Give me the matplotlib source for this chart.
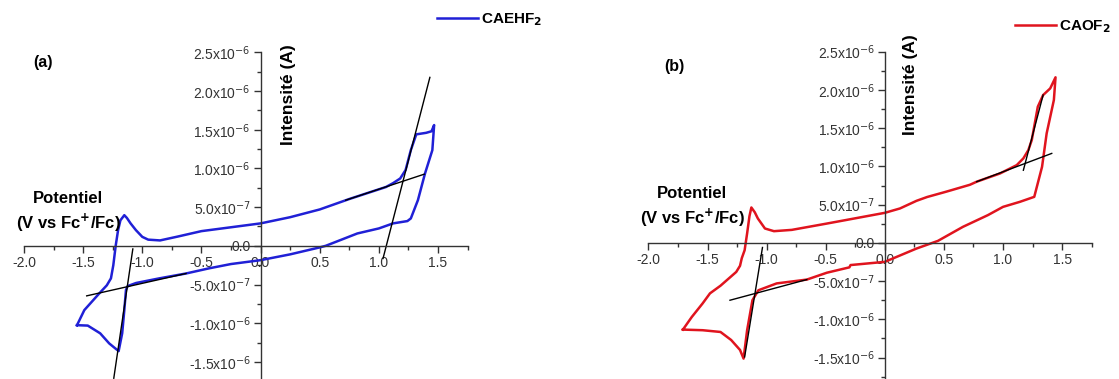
import matplotlib
matplotlib.use('Agg')

import matplotlib.pyplot as plt
from matplotlib.ticker import MultipleLocator, FuncFormatter, FixedLocator

plt.rcParams['font.family'] = ['Liberation Sans', 'DejaVu Sans']

# courant en unites de 1e-6 A
# (a) CAEHF2
xa = [-1.552, -1.49, -1.364, -1.30, -1.265, -1.245, -1.225, -1.205, -1.185, -1.152, -1.13,
      -1.099, -1.054, -1.0, -0.95, -0.85, -0.7, -0.5, -0.25, 0.0, 0.25, 0.5, 0.75,
      1.0, 1.06, 1.12, 1.18, 1.226, 1.27, 1.316, 1.40, 1.445, 1.467, 1.452, 1.39,
      1.33, 1.27, 1.241, 1.12, 1.0, 0.818, 0.55, 0.5, 0.25, 0.0, -0.25, -0.434, -0.63,
      -0.856, -1.053, -1.124, -1.138, -1.152, -1.17, -1.20, -1.28, -1.356, -1.461, -1.552]
ya = [-1.025, -0.83, -0.615, -0.51, -0.42, -0.25, 0.0, 0.2, 0.33, 0.396, 0.36,
      0.29, 0.203, 0.116, 0.08, 0.07, 0.12, 0.19, 0.24, 0.29, 0.37, 0.47, 0.605,
      0.73, 0.76, 0.81, 0.87, 0.98, 1.236, 1.44, 1.46, 1.48, 1.56, 1.236, 0.935,
      0.59, 0.354, 0.32, 0.29, 0.225, 0.16, 0.0, -0.02, -0.11, -0.185, -0.235, -0.29, -0.357,
      -0.42, -0.48, -0.52, -0.57, -0.83, -1.13, -1.36, -1.26, -1.13, -1.03, -1.025]

# tangentes (a)
ta_x = [[-1.47, -0.63], [-1.241, -1.08], [0.72, 1.384], [1.035, 1.431]]
ta_y = [[-0.646, -0.357], [-1.71, -0.04], [0.59, 0.926], [-0.163, 2.176]]

# (b) CAOF2
xb = [-1.708, -1.633, -1.542, -1.479, -1.39, -1.257, -1.225, -1.21, -1.186, -1.165, -1.145,
      -1.129, -1.10, -1.074, -1.014, -0.938, -0.787, -0.5, -0.335, 0.0, 0.128, 0.268,
      0.358, 0.509, 0.565, 0.72, 0.777, 0.975, 1.116, 1.172, 1.214, 1.243, 1.294, 1.339,
      1.399, 1.444, 1.43, 1.369, 1.33, 1.264, 1.143, 1.0, 0.872, 0.661, 0.449, 0.268,
      0.0, -0.29, -0.30, -0.49, -0.66, -0.915, -1.07, -1.12, -1.165, -1.195, -1.225,
      -1.30, -1.39, -1.542, -1.708]
yb = [-1.134, -0.969, -0.793, -0.66, -0.56, -0.38, -0.30, -0.2, -0.096, 0.123, 0.35,
      0.463, 0.40, 0.319, 0.188, 0.153, 0.17, 0.25, 0.297, 0.393, 0.45, 0.55,
      0.60, 0.665, 0.69, 0.76, 0.80, 0.908, 1.017, 1.105, 1.213, 1.344, 1.78, 1.933,
      2.02, 2.165, 1.868, 1.432, 0.995, 0.602, 0.537, 0.471, 0.363, 0.21, 0.026, -0.074,
      -0.248, -0.29, -0.32, -0.39, -0.48, -0.53, -0.62, -0.75, -1.143, -1.513, -1.40,
      -1.27, -1.165, -1.142, -1.134]

tb_x = [[-1.31, -0.66], [-1.186, -1.035], [0.777, 1.412], [1.172, 1.339]]
tb_y = [[-0.75, -0.48], [-1.492, -0.06], [0.80, 1.17], [0.95, 1.933]]

yticks = [-1.5, -1.0, -0.5, 0.0, 0.5, 1.0, 1.5, 2.0, 2.5]


def ylab(v, pos):
    if abs(v) < 1e-9:
        return '0.0'
    if abs(v) < 0.99:
        return r'%.1fx10$^{-7}$' % (v * 10)
    return r'%.1fx10$^{-6}$' % v


def panel(rect, x, y, tx, ty, color, name, tag, ybot, lbl_pos, leg_pos, tag_pos, int_pos):
    ax = fig.add_axes(rect)
    ax.plot(x, y, color=color, lw=1.8, label=name)
    for a, b in zip(tx, ty):
        ax.plot(a, b, color='black', lw=1.0)
    for s in ['top', 'right']:
        ax.spines[s].set_visible(False)
    ax.spines['left'].set_position(('data', 0))
    ax.spines['bottom'].set_position(('data', 0))
    for s in ['left', 'bottom']:
        ax.spines[s].set_color('#333333')
        ax.spines[s].set_linewidth(1.0)
    ax.patch.set_alpha(0)
    ax.xaxis.set_major_locator(MultipleLocator(0.5))
    ax.xaxis.set_minor_locator(MultipleLocator(0.25))
    ax.yaxis.set_major_locator(FixedLocator(yticks))
    ax.yaxis.set_minor_locator(MultipleLocator(0.25))
    ax.xaxis.set_major_formatter(FuncFormatter(lambda v, p: '%.1f' % v))
    ax.yaxis.set_major_formatter(FuncFormatter(ylab))
    ax.tick_params(which='major', length=5, width=1, color='#333333',
                   labelsize=10, labelcolor='#333333', pad=2)
    ax.tick_params(which='minor', length=3, width=1, color='#333333')
    ax.set_xlim(-2.0, 1.75)
    ax.set_ylim(ybot, 2.5)
    ax.legend(loc='center left', bbox_to_anchor=leg_pos, bbox_transform=fig.transFigure,
              frameon=False, prop={'weight': 'bold', 'size': 11},
              handlelength=2.7, handletextpad=0.2, borderpad=0, borderaxespad=0)
    fig.text(tag_pos[0], tag_pos[1], tag, fontsize=11.5, fontweight='bold', ha='center', va='center')
    fig.text(lbl_pos[0], lbl_pos[1], 'Potentiel', fontsize=12, fontweight='bold',
             ha='center', va='center')
    fig.text(lbl_pos[0], lbl_pos[1] - 0.066, r'(V vs Fc$^{\mathbf{+}}$/Fc)', fontsize=12,
             fontweight='bold', ha='center', va='center')
    fig.text(int_pos[0], int_pos[1], 'Intensité (A)', fontsize=12.5, fontweight='bold',
             rotation=90, ha='center', va='center')
    return ax


fig = plt.figure(figsize=(11.19, 3.79), dpi=100)

W, H = 1119.0, 379.0
panel([24.0 / W, 0.0, 443.6 / W, 1 - 52.3 / H], xa, ya, ta_x, ta_y, '#2020d6',
      r'CAEHF$_\mathbf{2}$', '(a)', -1.72,
      (68 / W, 1 - 198 / H), (437 / W, 1 - 19.5 / H), (43 / W, 1 - 63 / H), (289 / W, 1 - 95 / H))
panel([648.4 / W, 0.0, 443.3 / W, 1 - 51.7 / H], xb, yb, tb_x, tb_y, '#e0141e',
      r'CAOF$_\mathbf{2}$', '(b)', -1.78,
      (692 / W, 1 - 193 / H), (1015 / W, 1 - 27 / H), (674 / W, 1 - 66 / H), (911 / W, 1 - 85 / H))

fig.savefig('out.png', dpi=100)
